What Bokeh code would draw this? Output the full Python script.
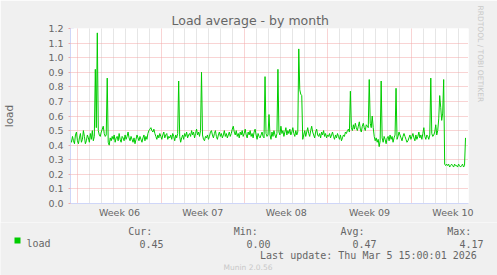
from bokeh.plotting import figure
from bokeh.layouts import column
from bokeh.models import (FixedTicker, PolyAnnotation, Range1d, NumeralTickFormatter, Title)
from bokeh.core.properties import value
from bokeh.embed import file_html
from bokeh.resources import INLINE

# ---- data -------------------------------------------------------------
# time axis: days since Monday 2 Feb 2026 (start of Week 06), one sample every 2 hours
start_day = -0.61
step_days = 2.0 / 24.0

load_part1 = [
    0.44, 0.42, 0.46, 0.43, 0.41, 0.47, 0.49, 0.43, 0.41, 0.45, 0.48, 0.42, 0.44, 0.50, 0.46, 0.41, 0.43, 0.47, 0.45, 0.42,
    0.48, 0.44, 0.50, 0.43, 0.46, 0.92, 0.52, 1.17, 0.50, 0.47, 0.46, 0.49, 0.51, 0.53, 0.48, 0.46, 0.47, 0.86, 0.42, 0.40,
    0.45, 0.43, 0.46, 0.44, 0.47, 0.42, 0.45, 0.46, 0.43, 0.48, 0.44, 0.42, 0.46, 0.45, 0.43, 0.47, 0.44, 0.46, 0.49, 0.45,
    0.43, 0.46, 0.44, 0.42, 0.45, 0.41, 0.44, 0.47, 0.45, 0.43, 0.46, 0.44, 0.42, 0.45, 0.47, 0.43, 0.46, 0.44, 0.48, 0.50,
    0.51, 0.52, 0.50, 0.49, 0.51, 0.48, 0.46, 0.44, 0.47, 0.45, 0.48, 0.46, 0.44, 0.47, 0.49, 0.45, 0.47, 0.48, 0.44, 0.46,
]
load_part2 = [
    0.45, 0.47, 0.44, 0.48, 0.46, 0.43, 0.47, 0.45, 0.48, 0.84, 0.46, 0.42, 0.45, 0.47, 0.44, 0.48, 0.46, 0.49, 0.45, 0.47,
    0.48, 0.46, 0.50, 0.47, 0.49, 0.45, 0.48, 0.51, 0.47, 0.49, 0.46, 0.50, 0.90, 0.47, 0.44, 0.43, 0.46, 0.45, 0.47, 0.44,
    0.46, 0.49, 0.50, 0.47, 0.45, 0.48, 0.50, 0.46, 0.44, 0.47, 0.49, 0.46, 0.48, 0.45, 0.47, 0.50, 0.46, 0.48, 0.45, 0.47,
    0.49, 0.46, 0.48, 0.51, 0.53, 0.49, 0.47, 0.50, 0.46, 0.48, 0.45, 0.49, 0.47, 0.50, 0.46, 0.48, 0.51, 0.47, 0.45, 0.49,
    0.47, 0.50, 0.46, 0.48, 0.45, 0.49, 0.51, 0.47, 0.44, 0.48, 0.46, 0.45, 0.47, 0.49, 0.46, 0.45, 0.87, 0.48, 0.46, 0.47,
]
load_part3 = [
    0.61, 0.47, 0.44, 0.49, 0.46, 0.50, 0.47, 0.45, 0.48, 0.92, 0.49, 0.47, 0.53, 0.48, 0.50, 0.46, 0.49, 0.52, 0.47, 0.50,
    0.48, 0.51, 0.47, 0.49, 0.52, 0.48, 0.46, 0.50, 0.47, 0.49, 1.06, 0.78, 0.75, 0.74, 0.44, 0.47, 0.50, 0.46, 0.49, 0.52,
    0.48, 0.46, 0.50, 0.53, 0.49, 0.47, 0.45, 0.49, 0.51, 0.47, 0.46, 0.48, 0.45, 0.49, 0.47, 0.50, 0.46, 0.48, 0.45, 0.47,
    0.46, 0.48, 0.45, 0.47, 0.49, 0.46, 0.44, 0.47, 0.45, 0.48, 0.46, 0.44, 0.47, 0.43, 0.45, 0.47, 0.46, 0.49, 0.48, 0.50,
    0.51, 0.49, 0.77, 0.52, 0.50, 0.54, 0.51, 0.55, 0.52, 0.50, 0.53, 0.56, 0.51, 0.49, 0.53, 0.55, 0.52, 0.50, 0.54, 0.53,
]
load_part4 = [
    0.52, 0.85, 0.55, 0.52, 0.60, 0.52, 0.46, 0.43, 0.45, 0.42, 0.44, 0.39, 0.43, 0.84, 0.45, 0.42, 0.46, 0.44, 0.41, 0.45,
    0.46, 0.43, 0.47, 0.44, 0.46, 0.42, 0.45, 0.47, 0.79, 0.44, 0.46, 0.49, 0.47, 0.45, 0.43, 0.46, 0.48, 0.46, 0.44, 0.42,
    0.43, 0.45, 0.47, 0.44, 0.46, 0.48, 0.45, 0.43, 0.47, 0.44, 0.46, 0.49, 0.45, 0.47, 0.44, 0.48, 0.52, 0.46, 0.44, 0.47,
    0.46, 0.44, 0.47, 0.86, 0.48, 0.46, 0.47, 0.49, 0.54, 0.47, 0.50, 0.58, 0.74, 0.66, 0.57, 0.62, 0.85, 0.27, 0.26, 0.27,
    0.26, 0.27, 0.25, 0.26, 0.27, 0.26, 0.25, 0.27, 0.26, 0.26, 0.25, 0.27, 0.26, 0.25, 0.26, 0.27, 0.25, 0.26, 0.45,
]

week_starts = [0, 7, 14, 21, 28]
week_labels = ["Week 06", "Week 07", "Week 08", "Week 09", "Week 10"]
y_ticks = [0.0, 0.1, 0.2, 0.3, 0.4, 0.5, 0.6, 0.7, 0.8, 0.9, 1.0, 1.1, 1.2]

series_name = "load"
stat_names = ["Cur:", "Min:", "Avg:", "Max:"]
stat_values = ["0.45", "0.00", "0.47", "4.17"]
last_update = "Last update: Thu Mar  5 15:00:01 2026"
title_text = "Load average - by month"
y_label = "load"
watermark = "RRDTOOL / TOBI OETIKER"
footer = "Munin 2.0.56"

# ---- styling ----------------------------------------------------------
FONT = "DejaVu Sans"
MONO = "DejaVu Sans Mono"
FG = "#666666"
BG = "#F0F0F0"
AXIS = "#CFD6F8"
MGRID = "#F2A8A8"
GRID = "#CCCCCC"
LINE = "#00CC00"
FAINT = "#C8C8C8"

MAIN_H = 222

# ---- main chart -------------------------------------------------------
load = load_part1 + load_part2 + load_part3 + load_part4
days = [start_day + i * step_days for i in range(len(load))]

p = figure(width=497, height=MAIN_H, output_backend="svg", toolbar_location=None,
           x_range=Range1d(start_day, start_day + 401 / 12.0), y_range=Range1d(0, 1.2),
           min_border_left=67, min_border_right=29, min_border_top=28,
           min_border_bottom=MAIN_H - 203,
           background_fill_color="white", border_fill_color=BG,
           outline_line_color=None)
p.frame_align = False

p.line(days, load, line_color=LINE, line_width=1)

# grids
day_marks = [d for d in range(0, 33) if d % 7 != 0]
p.xgrid.ticker = FixedTicker(ticks=week_starts, minor_ticks=day_marks)
p.xgrid.grid_line_color = MGRID
p.xgrid.grid_line_dash = "1 1"
p.xgrid.minor_grid_line_color = GRID
p.xgrid.minor_grid_line_dash = "1 1"
p.ygrid.ticker = FixedTicker(ticks=y_ticks)
p.ygrid.grid_line_color = MGRID
p.ygrid.grid_line_dash = "1 1"

# x axis: week labels centred in each week
centers = [w + 3.5 for w in week_starts]
xa = p.xaxis[0]
xa.ticker = FixedTicker(ticks=centers)
xa.major_label_overrides = {c: lab for c, lab in zip(centers, week_labels)}
xa.major_tick_line_color = None
xa.major_tick_in = 0
xa.major_tick_out = 0
xa.minor_tick_line_color = None
xa.minor_tick_out = 0
xa.axis_line_color = AXIS
xa.major_label_standoff = 3
xa.major_label_text_font = FONT
xa.major_label_text_font_size = "9.5px"
xa.major_label_text_color = FG

ya = p.yaxis[0]
ya.ticker = FixedTicker(ticks=y_ticks)
ya.formatter = NumeralTickFormatter(format="0.0")
ya.major_tick_in = 0
ya.major_tick_out = 2
ya.major_tick_line_color = MGRID
ya.minor_tick_line_color = None
ya.axis_line_color = AXIS
ya.major_label_standoff = 5
ya.major_label_text_font = FONT
ya.major_label_text_font_size = "9.5px"
ya.major_label_text_color = FG
ya.axis_label = y_label
ya.axis_label_text_font = FONT
ya.axis_label_text_font_style = "normal"
ya.axis_label_text_font_size = "10.5px"
ya.axis_label_text_color = FG
ya.axis_label_standoff = 30

# title and watermark
p.add_layout(Title(text=title_text, align="left", offset=101, standoff=2,
                   text_font=FONT, text_font_size="12.5px", text_font_style="normal",
                   text_color=FG), "above")
p.add_layout(Title(text=watermark, align="left", offset=-23, standoff=15,
                   text_font=FONT, text_font_size="7.5px", text_font_style="normal",
                   text_color=FAINT), "right")

# axis arrows (frame-relative screen units)
p.add_layout(PolyAnnotation(xs=[401, 407, 401], ys=[2.5, 0, -2.5], xs_units="screen", ys_units="screen",
                            fill_color=AXIS, fill_alpha=1, line_color=AXIS))
p.add_layout(PolyAnnotation(xs=[-3, 0, 3], ys=[175, 181, 175], xs_units="screen", ys_units="screen",
                            fill_color=AXIS, fill_alpha=1, line_color=AXIS))

# ---- legend strip (page pixel coordinates, y downward) -----------------
lg = figure(width=497, height=275 - MAIN_H, output_backend="svg", toolbar_location=None,
            x_range=Range1d(0, 497), y_range=Range1d(275, MAIN_H),
            min_border=0, min_border_left=0, min_border_right=0,
            min_border_top=0, min_border_bottom=0,
            x_axis_location=None, y_axis_location=None,
            background_fill_color=BG, border_fill_color=BG, outline_line_color=None)
lg.frame_align = False
lg.grid.visible = False

lg.quad(left=[14], right=[20], top=[237], bottom=[243], fill_color=LINE, line_color=None)
lg.text(x=[26], y=[243], text=[series_name], text_font=value(MONO), text_font_size="10px",
        text_color=FG, text_baseline="alphabetic")
name_x = [127.7, 233.3, 340.0, 446.7]
val_x = [139.0, 246.0, 352.0, 459.0]
lg.text(x=name_x, y=[231] * 4, text=stat_names, text_font=value(MONO), text_font_size="10px",
        text_color=FG, text_baseline="alphabetic")
lg.text(x=val_x, y=[243] * 4, text=stat_values, text_font=value(MONO), text_font_size="10px",
        text_color=FG, text_baseline="alphabetic")
lg.text(x=[482.3], y=[254.5], text=[last_update], text_font=value(MONO), text_font_size="10px",
        text_color=FG, text_baseline="alphabetic", text_align="right")
lg.text(x=[247.5], y=[267], text=[footer], text_font=value(FONT), text_font_size="7.5px",
        text_color=FAINT, text_baseline="alphabetic", text_align="center")

layout = column(p, lg, spacing=0)
open("out.html", "w").write(file_html(layout, INLINE))
